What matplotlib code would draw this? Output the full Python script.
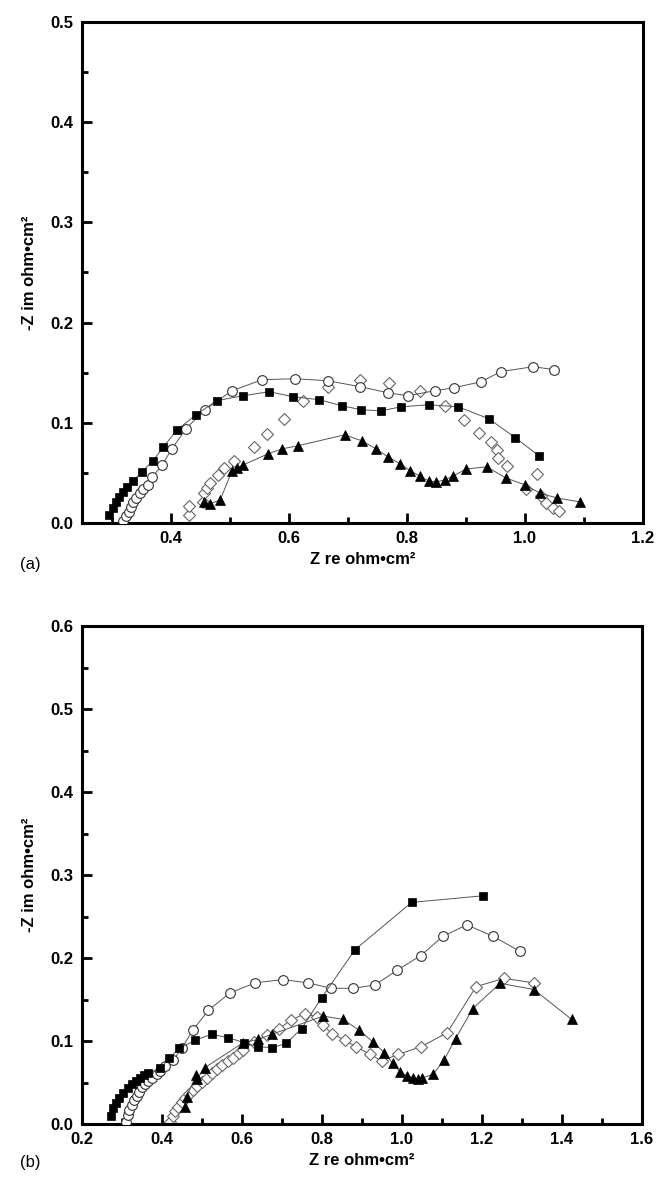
import matplotlib
matplotlib.use("Agg")
import matplotlib.pyplot as plt
from matplotlib.ticker import MultipleLocator, FormatStrFormatter

plt.rcParams['font.family'] = ['Liberation Sans Narrow', 'Liberation Sans', 'DejaVu Sans']

# ---------------- Panel (a) data ----------------
a_sq_x = [0.296, 0.302, 0.308, 0.313, 0.320, 0.327, 0.337, 0.351, 0.370, 0.388, 0.411, 0.443,
          0.478, 0.522, 0.567, 0.608, 0.652, 0.690, 0.723, 0.756, 0.791, 0.837, 0.887, 0.939,
          0.984, 1.024]
a_sq_y = [0.008, 0.015, 0.021, 0.026, 0.031, 0.036, 0.042, 0.051, 0.062, 0.076, 0.093, 0.108,
          0.122, 0.127, 0.131, 0.126, 0.123, 0.117, 0.113, 0.112, 0.116, 0.118, 0.116, 0.104,
          0.085, 0.067]

a_ci_x = [0.320, 0.324, 0.329, 0.333, 0.337, 0.342, 0.348, 0.354, 0.361, 0.369, 0.386, 0.402,
          0.426, 0.458, 0.504, 0.555, 0.610, 0.666, 0.721, 0.768, 0.802, 0.847, 0.880, 0.926,
          0.959, 1.014, 1.050]
a_ci_y = [0.002, 0.007, 0.011, 0.016, 0.021, 0.025, 0.030, 0.034, 0.038, 0.046, 0.058, 0.074,
          0.094, 0.113, 0.132, 0.143, 0.144, 0.142, 0.136, 0.130, 0.127, 0.132, 0.135, 0.141,
          0.151, 0.156, 0.153]

a_di_x = [0.431, 0.432, 0.455, 0.456, 0.462, 0.467, 0.480, 0.491, 0.508, 0.542, 0.563, 0.592,
          0.625, 0.667, 0.720, 0.770, 0.823, 0.865, 0.897, 0.922, 0.943, 0.952, 0.955, 0.969,
          1.021, 1.002, 1.027, 1.036, 1.047, 1.058]
a_di_y = [0.008, 0.017, 0.021, 0.030, 0.035, 0.040, 0.048, 0.055, 0.062, 0.076, 0.089, 0.104,
          0.122, 0.136, 0.143, 0.140, 0.132, 0.117, 0.103, 0.090, 0.081, 0.073, 0.065, 0.057,
          0.049, 0.034, 0.027, 0.020, 0.015, 0.012]

a_tr_x = [0.456, 0.466, 0.484, 0.504, 0.512, 0.523, 0.565, 0.589, 0.615, 0.695, 0.724, 0.748,
          0.768, 0.789, 0.806, 0.822, 0.837, 0.850, 0.864, 0.879, 0.901, 0.935, 0.968, 1.000,
          1.025, 1.054, 1.094]
a_tr_y = [0.021, 0.019, 0.023, 0.052, 0.055, 0.058, 0.069, 0.074, 0.077, 0.088, 0.082, 0.074,
          0.066, 0.059, 0.052, 0.047, 0.042, 0.041, 0.043, 0.047, 0.054, 0.056, 0.045, 0.038,
          0.030, 0.025, 0.021]

# ---------------- Panel (b) data ----------------
b_sq_x = [0.2725, 0.278, 0.285, 0.293, 0.303, 0.314, 0.324, 0.335, 0.345, 0.356, 0.366, 0.395,
          0.418, 0.443, 0.4825, 0.524, 0.566, 0.605, 0.641, 0.676, 0.710, 0.749, 0.799, 0.8825,
          1.024, 1.203]
b_sq_y = [0.0096, 0.019, 0.025, 0.031, 0.037, 0.043, 0.048, 0.052, 0.056, 0.059, 0.061, 0.067,
          0.079, 0.091, 0.101, 0.108, 0.104, 0.098, 0.093, 0.092, 0.097, 0.115, 0.152, 0.210,
          0.267, 0.275]

b_ci_x = [0.310, 0.314, 0.318, 0.324, 0.330, 0.337, 0.343, 0.351, 0.3575, 0.366, 0.376, 0.387,
          0.395, 0.4075, 0.428, 0.449, 0.477, 0.516, 0.570, 0.6325, 0.702, 0.766, 0.822, 0.878,
          0.9325, 0.987, 1.047, 1.102, 1.162, 1.228, 1.295]
b_ci_y = [0.003, 0.011, 0.017, 0.023, 0.029, 0.034, 0.039, 0.044, 0.048, 0.052, 0.056, 0.060,
          0.064, 0.070, 0.077, 0.091, 0.113, 0.137, 0.158, 0.170, 0.174, 0.170, 0.1635, 0.1635,
          0.1675, 0.185, 0.203, 0.226, 0.240, 0.226, 0.208]

b_di_x = [0.420, 0.427, 0.4325, 0.441, 0.449, 0.4575, 0.4675, 0.477, 0.488, 0.499, 0.512, 0.524,
          0.537, 0.551, 0.566, 0.578, 0.5925, 0.603, 0.630, 0.663, 0.693, 0.722, 0.7575, 0.787,
          0.803, 0.824, 0.8575, 0.885, 0.920, 0.949, 0.991, 1.047, 1.113, 1.185, 1.255, 1.330]
b_di_y = [0.003, 0.0096, 0.016, 0.021, 0.026, 0.031, 0.036, 0.041, 0.046, 0.051, 0.056, 0.061,
          0.066, 0.071, 0.076, 0.080, 0.085, 0.089, 0.099, 0.107, 0.115, 0.125, 0.133, 0.129,
          0.119, 0.109, 0.101, 0.093, 0.084, 0.076, 0.084, 0.093, 0.110, 0.1655, 0.1755, 0.170]

b_tr_x = [0.4575, 0.462, 0.485, 0.487, 0.5075, 0.603, 0.641, 0.674, 0.803, 0.853, 0.8925, 0.927,
          0.956, 0.977, 0.995, 1.012, 1.028, 1.041, 1.049, 1.078, 1.105, 1.134, 1.177, 1.245,
          1.330, 1.424]
b_tr_y = [0.020, 0.033, 0.059, 0.054, 0.068, 0.098, 0.102, 0.108, 0.130, 0.126, 0.113, 0.099,
          0.086, 0.073, 0.063, 0.058, 0.056, 0.054, 0.055, 0.060, 0.077, 0.103, 0.139, 0.1695,
          0.162, 0.126]

xlabel = 'Z re ohm•cm²'
ylabel = '-Z im ohm•cm²'

W, H = 658, 1187
fig = plt.figure(figsize=(W / 100, H / 100), dpi=100)


def px_axes(x0, y0, x1, y1):
    return fig.add_axes([x0 / W, 1 - y1 / H, (x1 - x0) / W, (y1 - y0) / H])


ax_a = px_axes(82, 22, 643, 523)
ax_b = px_axes(82, 626, 642, 1124)

line_kw = dict(color='#555555', lw=0.7)
sq_kw = dict(marker='s', ms=6.0, mfc='black', mec='black', mew=0.5)
ci_kw = dict(marker='o', ms=7.0, mfc='white', mec='#333333', mew=0.8)
di_kw = dict(marker='D', ms=6.5, mfc='white', mec='#666666', mew=0.8)
tr_kw = dict(marker='^', ms=7.5, mfc='black', mec='black', mew=0.5)


def draw(ax, sq, ci, di, tr, di_line=True):
    if di_line:
        ax.plot(*di, **line_kw, **di_kw, zorder=2)
    else:
        ax.plot(*di, ls='none', **di_kw, zorder=2)
    ax.plot(*ci, **line_kw, **ci_kw, zorder=3)
    ax.plot(*tr, **line_kw, **tr_kw, zorder=4)
    ax.plot(*sq, **line_kw, **sq_kw, zorder=5)


draw(ax_a, (a_sq_x, a_sq_y), (a_ci_x, a_ci_y), (a_di_x, a_di_y), (a_tr_x, a_tr_y), di_line=False)
draw(ax_b, (b_sq_x, b_sq_y), (b_ci_x, b_ci_y), (b_di_x, b_di_y), (b_tr_x, b_tr_y))

ax_a.set_xlim(0.25, 1.2)
ax_a.set_ylim(0, 0.5)
ax_b.set_xlim(0.2, 1.6)
ax_b.set_ylim(0, 0.6)

for ax in (ax_a, ax_b):
    ax.xaxis.set_major_locator(MultipleLocator(0.2))
    ax.xaxis.set_minor_locator(MultipleLocator(0.1))
    ax.yaxis.set_major_locator(MultipleLocator(0.1))
    ax.yaxis.set_minor_locator(MultipleLocator(0.05))
    ax.xaxis.set_major_formatter(FormatStrFormatter('%.1f'))
    ax.yaxis.set_major_formatter(FormatStrFormatter('%.1f'))
    for s in ax.spines.values():
        s.set_linewidth(2.2)
    ax.tick_params(which='major', direction='in', length=7, width=2,
                   labelsize=12, pad=6)
    ax.tick_params(which='minor', direction='in', length=4, width=2)
    for lab in ax.get_xticklabels() + ax.get_yticklabels():
        lab.set_fontweight('bold')
    ax.set_xlabel(xlabel, fontsize=12, fontweight='bold', labelpad=4)
    ax.set_ylabel(ylabel, fontsize=12, fontweight='bold', labelpad=10)

fig.text(20 / W, 1 - 565 / H, '(a)', fontsize=12, va='center', ha='left')
fig.text(20 / W, 1 - 1162 / H, '(b)', fontsize=12, va='center', ha='left')

fig.savefig('out.png', dpi=100)
